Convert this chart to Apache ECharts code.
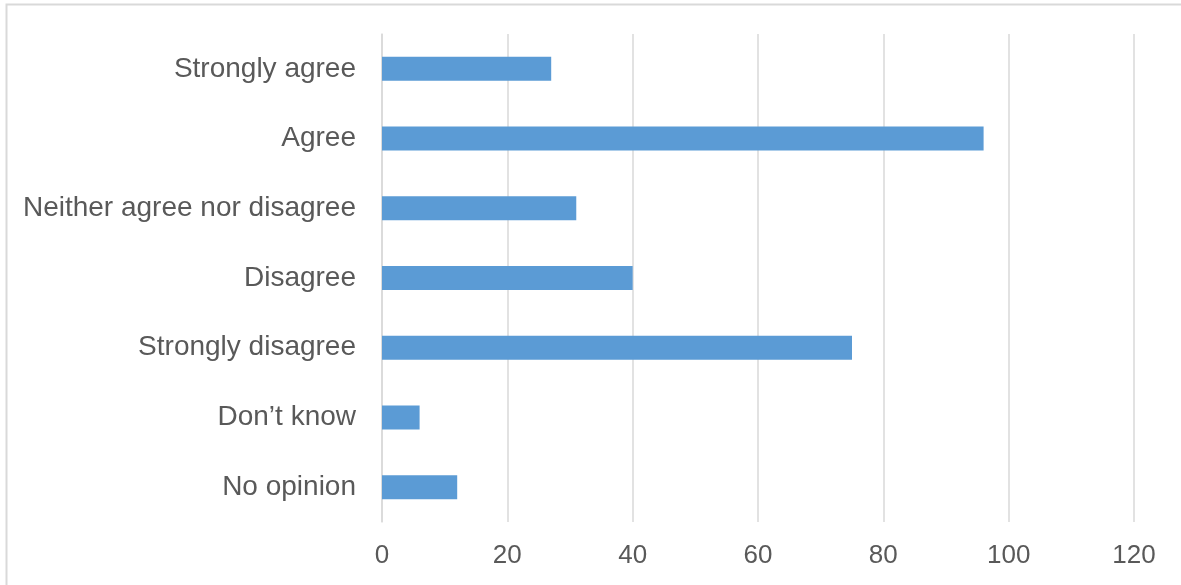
<!DOCTYPE html>
<html>
<head>
<meta charset="utf-8">
<script src="https://cdn.jsdelivr.net/npm/echarts@6/dist/echarts.min.js"></script>
<style>
html,body{margin:0;padding:0;background:#fff;}
#chart{width:1181px;height:585px;}
</style>
</head>
<body>
<div id="chart"></div>
<script>
const categories = ["Strongly agree", "Agree", "Neither agree nor disagree", "Disagree", "Strongly disagree", "Don\u2019t know", "No opinion"];
const values = [27, 96, 31, 40, 75, 6, 12];
const xTicks = [0, 20, 40, 60, 80, 100, 120];

const chart = echarts.init(document.getElementById('chart'), null, {renderer: 'canvas'});
const font = '"Liberation Sans", Arial, sans-serif';
chart.setOption({
  animation: false,
  graphic: [{
    type: 'rect',
    shape: {x: 6.5, y: 4.5, width: 1200, height: 620},
    style: {fill: 'none', stroke: '#d9d9d9', lineWidth: 2},
    silent: true,
    z: -1
  }],
  grid: {left: 382, right: 47, top: 34, bottom: 63, containLabel: false},
  xAxis: {
    type: 'value',
    min: xTicks[0],
    max: xTicks[xTicks.length - 1],
    interval: 20,
    axisLine: {show: false},
    axisTick: {show: false},
    splitLine: {show: true, lineStyle: {color: '#d9d9d9', width: 1.5}},
    axisLabel: {color: '#595959', fontSize: 26, fontFamily: font, margin: 21}
  },
  yAxis: {
    type: 'category',
    data: categories,
    inverse: true,
    axisLine: {show: true, lineStyle: {color: '#d9d9d9', width: 1.5}},
    axisTick: {show: false},
    axisLabel: {color: '#595959', fontSize: 28, fontFamily: font, margin: 26, padding: [4, 0, 0, 0]}
  },
  series: [{
    type: 'bar',
    data: values,
    barWidth: 24,
    itemStyle: {color: '#5b9bd5'}
  }]
});
</script>
</body>
</html>
